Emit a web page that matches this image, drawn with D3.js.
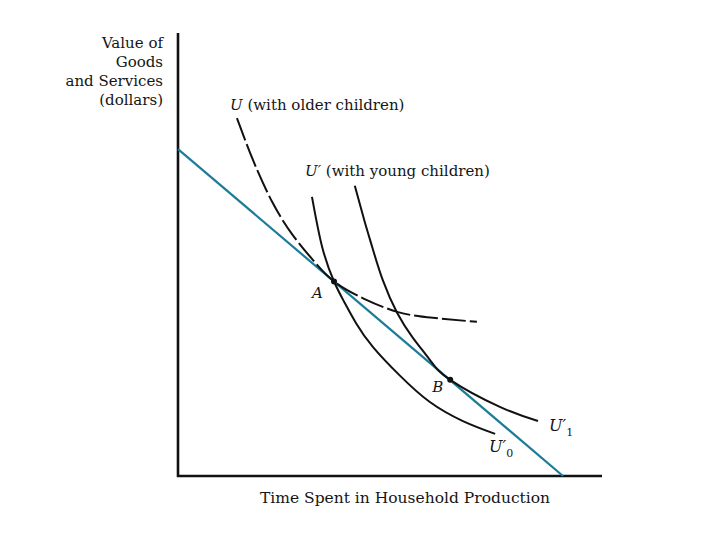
<!DOCTYPE html>
<html>
<head>
<meta charset="utf-8">
<script src="https://cdn.jsdelivr.net/npm/d3@7"></script>
<style>
  body { margin: 0; background: #fff; }
  text { font-family: "DejaVu Serif", "Liberation Serif", serif; fill: #151515; }
</style>
</head>
<body>
<svg id="chart"></svg>
<script>
const w = 720
const h = 540

// budget line end points (x, y) in chart units
const budget = [[0, 73.8], [90.8, 0]]
// tangency points
const pointA = [36.8, 43.9]
const pointB = [64.2, 21.7]
// U (older children), dashed
const curveU = [[13.9, 80.8], [17.7, 71.3], [22.2, 61.9], [26.9, 54.6], [31.6, 49.0],
	[36.8, 43.9], [43.9, 40.0], [51.9, 37.0], [60.1, 35.7], [70.5, 34.8]]
// U'0 (young children, low)
const curveU0 = [[31.6, 63.0], [34.0, 51.7], [36.8, 43.9], [39.2, 39.3], [42.0, 34.5],
	[46.0, 29.1], [52.4, 22.6], [59.4, 16.7], [67.2, 12.4], [74.8, 9.5]]
// U'1 (young children, high)
const curveU1 = [[41.7, 65.5], [44.0, 57.5], [45.8, 51.7], [48.3, 44.2], [51.7, 36.8], [55.4, 31.2],
	[59.4, 26.2], [64.2, 21.7], [75.9, 15.6], [84.9, 12.4]]
const yLabel = ['Value of', 'Goods', 'and Services', '(dollars)']
const xLabel = 'Time Spent in Household Production'

const margin = { left: 178, top: 33, right: 118, bottom: 64 }

const SVG = d3.select('#chart')
	.attr('width', w)
	.attr('height', h)

let xScale = d3.scaleLinear()
	.domain([0, 100])
	.range([margin.left, w - margin.right])

let yScale = d3.scaleLinear()
	.domain([0, 100])
	.range([h - margin.bottom, margin.top])

let line = d3.line()
	.x(d => xScale(d[0]))
	.y(d => yScale(d[1]))

let smooth = d3.line()
	.x(d => xScale(d[0]))
	.y(d => yScale(d[1]))
	.curve(d3.curveNatural)

// axes (plain L shape)
SVG.append('path')
	.attr('d', `M${xScale(0)},${yScale(100)} V${yScale(0)} H${xScale(100)}`)
	.attr('fill', 'none')
	.attr('stroke', '#111')
	.attr('stroke-width', 2.6)

// budget line
SVG.append('path')
	.attr('d', line(budget))
	.attr('stroke', '#1b7c97')
	.attr('stroke-width', 2.2)
	.attr('fill', 'none')

// indifference curves
SVG.append('path')
	.attr('d', smooth(curveU))
	.attr('stroke', '#111')
	.attr('stroke-width', 2)
	.attr('stroke-dasharray', '24, 4')
	.attr('fill', 'none')

SVG.selectAll('path.young').data([curveU0, curveU1])
	.enter().append('path')
	.attr('class', 'young')
	.attr('d', d => smooth(d))
	.attr('stroke', '#111')
	.attr('stroke-width', 2)
	.attr('fill', 'none')

// tangency dots
SVG.selectAll('circle').data([pointA, pointB])
	.enter().append('circle')
	.attr('cx', d => xScale(d[0]))
	.attr('cy', d => yScale(d[1]))
	.attr('r', 3)
	.attr('fill', '#111')

// y axis label
SVG.append('text')
	.attr('text-anchor', 'end')
	.attr('font-size', 15)
	.selectAll('tspan').data(yLabel)
	.enter().append('tspan')
	.attr('x', 163)
	.attr('y', (_, i) => 48 + i * 19)
	.text(d => d)

// x axis label
SVG.append('text')
	.attr('x', 405)
	.attr('y', 503)
	.attr('text-anchor', 'middle')
	.attr('font-size', 15.5)
	.text(xLabel)

// curve labels
let lu = SVG.append('text').attr('x', 230).attr('y', 110).attr('font-size', 15)
lu.append('tspan').attr('font-style', 'italic').text('U')
lu.append('tspan').text(' (with older children)')

let lu2 = SVG.append('text').attr('x', 305).attr('y', 176).attr('font-size', 15)
lu2.append('tspan').attr('font-style', 'italic').text('U\u2032')
lu2.append('tspan').text(' (with young children)')

SVG.append('text')
	.attr('x', xScale(pointA[0]) - 22)
	.attr('y', yScale(pointA[1]) + 16)
	.attr('font-size', 15)
	.attr('font-style', 'italic')
	.text('A')

SVG.append('text')
	.attr('x', xScale(pointB[0]) - 18)
	.attr('y', yScale(pointB[1]) + 12)
	.attr('font-size', 15)
	.attr('font-style', 'italic')
	.text('B')

function primeLabel(x, y, sub) {
	let t = SVG.append('text').attr('x', x).attr('y', y).attr('font-size', 16)
	t.append('tspan').attr('font-style', 'italic').text('U\u2032')
	t.append('tspan').attr('font-size', 11).attr('dy', 5).text(sub)
}
primeLabel(549, 431, '1')
primeLabel(489, 452, '0')
</script>
</body>
</html>
